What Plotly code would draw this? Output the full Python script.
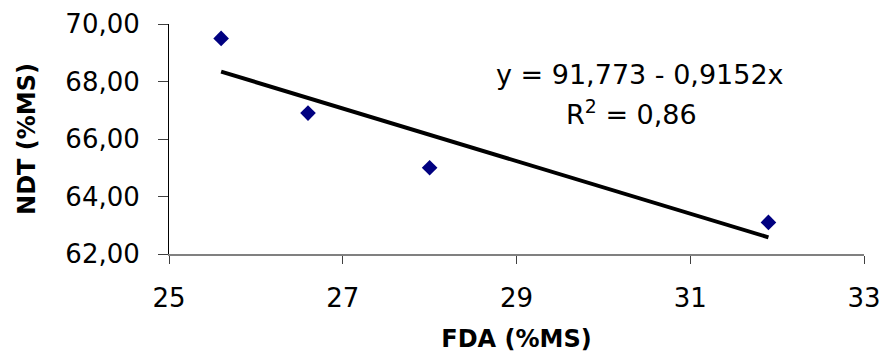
import plotly.graph_objects as go
import numpy as np

# Data
fda = [25.6, 26.6, 28.0, 31.9]          # FDA (%MS)
ndt = [69.5, 66.9, 65.0, 63.1]          # NDT (%MS)

# Trendline coefficients shown on the chart
intercept = 91.773
slope = -0.9152
r2 = 0.86

x_ticks = [25, 27, 29, 31, 33]
y_ticks = [62, 64, 66, 68, 70]

FONT = "DejaVu Sans"

trend_x = np.array([min(fda), max(fda)])
trend_y = intercept + slope * trend_x

fig = go.Figure()
fig.add_trace(go.Scatter(
    x=fda, y=ndt, mode="markers",
    marker=dict(symbol="diamond", size=12, color="#000080"),
    showlegend=False,
))
fig.add_trace(go.Scatter(
    x=trend_x, y=trend_y, mode="lines",
    line=dict(color="black", width=4),
    showlegend=False,
))

fig.update_layout(
    width=881, height=356,
    margin=dict(l=169, r=17, t=24, b=102),
    paper_bgcolor="white", plot_bgcolor="white",
    separators=",.",
    font=dict(family=FONT, color="black"),
    xaxis=dict(
        range=[25, 33], tickvals=x_ticks, ticktext=[str(v) for v in x_ticks],
        automargin=False, ticklabeloverflow="allow",
        showgrid=False, zeroline=False,
        showline=True, linecolor="#808080", linewidth=1.5,
        ticks="outside", ticklen=8, tickcolor="#404040", tickwidth=1,
        tickfont=dict(family=FONT, size=26, color="black"),
        ticklabelstandoff=12,
        title=dict(text="<b>FDA (%MS)</b>", font=dict(family=FONT, size=24, color="black"), standoff=18),
    ),
    yaxis=dict(
        range=[62, 70], tickvals=y_ticks, tickformat=".2f",
        automargin=False, ticklabeloverflow="allow",
        showgrid=False, zeroline=False,
        showline=True, linecolor="black", linewidth=1,
        ticks="outside", ticklen=10, tickcolor="#404040", tickwidth=1,
        tickfont=dict(family=FONT, size=26, color="black"),
        ticklabelstandoff=13,
        title=dict(text="<b>NDT (%MS)</b>", font=dict(family=FONT, size=24, color="black"), standoff=22),
    ),
)

fig.add_annotation(
    xref="paper", yref="paper", x=0.6775, y=0.7826,
    text="y = 91,773 - 0,9152x", showarrow=False,
    xanchor="center", yanchor="middle",
    font=dict(family=FONT, size=27, color="black"),
)
fig.add_annotation(
    xref="paper", yref="paper", x=0.666, y=0.615,
    text="R<sup>2</sup> = 0,86", showarrow=False,
    xanchor="center", yanchor="middle",
    font=dict(family=FONT, size=27, color="black"),
)

fig.write_html(
    "out.html",
    config={"displayModeBar": False},
    post_script="document.body.style.margin='0';document.body.style.overflow='hidden';",
)
